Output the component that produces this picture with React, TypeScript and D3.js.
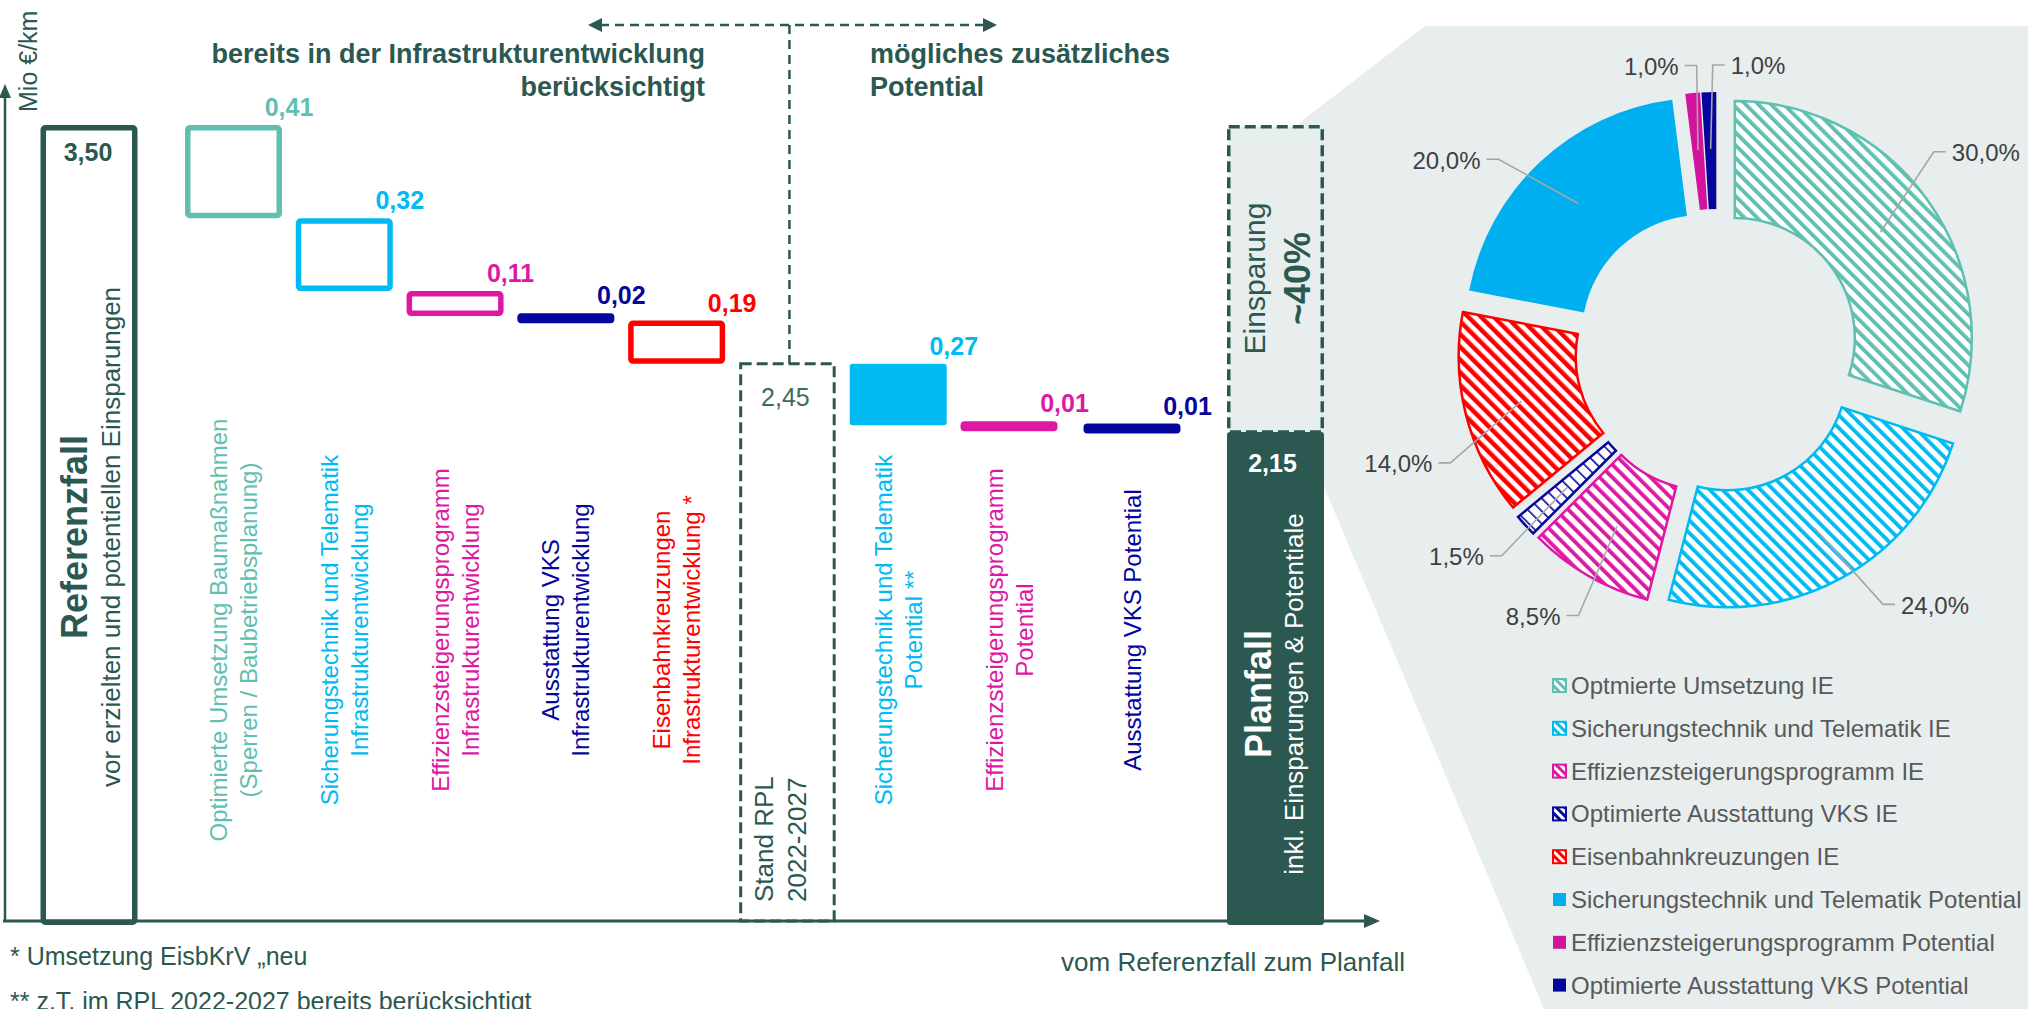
import React from "react";
import * as d3 from "d3";

// ---------------- Data ----------------
const stepNames = [
  "Referenzfall",
  "Optimierte Umsetzung Baumaßnahmen",
  "Sicherungstechnik und Telematik IE",
  "Effizienzsteigerungsprogramm IE",
  "Ausstattung VKS IE",
  "Eisenbahnkreuzungen IE",
  "Stand RPL 2022-2027",
  "Sicherungstechnik und Telematik Potential",
  "Effizienzsteigerungsprogramm Potential",
  "Ausstattung VKS Potential",
  "Planfall",
];
const stepKinds = ["total", "delta", "delta", "delta", "delta", "delta", "subtotal", "delta", "delta", "delta", "total"];
const stepValues = [3.5, 0.41, 0.32, 0.11, 0.02, 0.19, 2.45, 0.27, 0.01, 0.01, 2.15];
const stepValueLabels = ["3,50", "0,41", "0,32", "0,11", "0,02", "0,19", "2,45", "0,27", "0,01", "0,01", "2,15"];
const stepLabelLines = [
  ["Referenzfall", "vor erzielten und potentiellen Einsparungen"],
  ["Optimierte Umsetzung Baumaßnahmen", "(Sperren / Baubetriebsplanung)"],
  ["Sicherungstechnik und Telematik", "Infrastrukturentwicklung"],
  ["Effizienzsteigerungsprogramm", "Infrastrukturentwicklung"],
  ["Ausstattung VKS", "Infrastrukturentwicklung"],
  ["Eisenbahnkreuzungen", "Infrastrukturentwicklung *"],
  ["Stand RPL", "2022-2027"],
  ["Sicherungstechnik und Telematik", "Potential **"],
  ["Effizienzsteigerungsprogramm", "Potential"],
  ["Ausstattung VKS Potential"],
  ["Planfall", "inkl. Einsparungen & Potentiale"],
];
const savingsLines = ["Einsparung", "~40%"];
const headlineLeft = ["bereits in der Infrastrukturentwicklung", "berücksichtigt"];
const headlineRight = ["mögliches zusätzliches", "Potential"];
const footnotes = ["* Umsetzung EisbKrV „neu", "** z.T. im RPL 2022-2027 bereits berücksichtigt"];
const yAxisTitle = "Mio €/km";
const xAxisTitle = "vom Referenzfall zum Planfall";

const pieNames = [
  "Optmierte Umsetzung IE",
  "Sicherungstechnik und Telematik IE",
  "Effizienzsteigerungsprogramm IE",
  "Optimierte Ausstattung VKS IE",
  "Eisenbahnkreuzungen IE",
  "Sicherungstechnik und Telematik Potential",
  "Effizienzsteigerungsprogramm Potential",
  "Optimierte Ausstattung VKS Potential",
];
const pieValues = [30, 24, 8.5, 1.5, 14, 20, 1, 1];
const pieValueLabels = ["30,0%", "24,0%", "8,5%", "1,5%", "14,0%", "20,0%", "1,0%", "1,0%"];

// ---------------- Styles / layout ----------------
const DG = "#2B5850";
const TEAL = "#5FBFB0";
const LBLUE = "#00BAF2";
const MAG = "#DE18A3";
const NAVY = "#06069C";
const RED = "#FF0000";
const PIE_LB = "#00AFEF";
const PIE_MAG = "#D2149C";
const PANEL = "#E8EEEE";
const FONT = "'Liberation Sans', Arial, Helvetica, sans-serif";

const stepColors = [DG, TEAL, LBLUE, MAG, NAVY, RED, DG, LBLUE, MAG, NAVY, DG];
const stepStyles = ["outline", "outline", "outline", "outline", "solid", "outline", "dashed", "solid", "solid", "solid", "solid"];
const pieColors = [TEAL, LBLUE, MAG, NAVY, RED, PIE_LB, PIE_MAG, NAVY];
const pieHatched = [true, true, true, true, true, false, false, false];
const pieStripe = [3.8, 3.8, 3.8, 1.6, 4.5, 0, 0, 0];
const pieLabelAngleDeg = [53.6, 139.4, 214.7, 231.7, 250.5, 305.2, 347, 8.2];
const pieLabelRadius = [334, 335, 323, 332, 338, 331, 292, 288];

const W = 2028;
const H = 1009;

function estWidth(s: string, size: number) {
  let w = 0;
  for (const ch of s) {
    if (ch === "," || ch === ".") w += 0.278;
    else if (ch === "%") w += 0.889;
    else w += 0.556;
  }
  return w * size;
}

export default function App() {
  const y = d3.scaleLinear().domain([0, 3.5]).range([921, 125]);
  const xc = d3.scaleLinear().domain([0, 1, 8, 9, 10]).range([89, 233.5, 1009, 1132, 1275.5]);
  const bw = 97;
  const y0 = y(0);

  // waterfall geometry
  let running = 0;
  const steps = stepValues.map((v, i) => {
    let top: number, bottom: number;
    if (stepKinds[i] === "delta") {
      top = running;
      bottom = running - v;
      running = bottom;
    } else {
      top = v;
      bottom = 0;
      running = v;
    }
    return { i, v, top, bottom, cx: xc(i) };
  });
  const savingsTop = stepValues[0];
  const savingsBottom = stepValues[stepValues.length - 1];
  const planCx = xc(10);

  // pie geometry
  const C = [1717, 351];
  const rIn = 120;
  const rOut = 237;
  const explode = 22;
  const pieGen = d3.pie<number>().sort(null).value((d) => d).startAngle(0).endAngle(2 * Math.PI);
  const arcs = pieGen(pieValues);
  const arcGen = d3.arc<d3.PieArcDatum<number>>().innerRadius(rIn).outerRadius(rOut);

  const catFont = 24;
  const catLh = 30;
  const labelMidY = 630;

  const renderCatLabel = (i: number) => {
    const lines = stepLabelLines[i];
    const cx = xc(i);
    const n = lines.length;
    if (i === 0 || i === 10) return null;
    if (i === 6) {
      return lines.map((ln, j) => {
        const bx = cx + (j - (n - 1) / 2) * 33 + 2;
        return (
          <text key={j} transform={`translate(${bx},902) rotate(-90)`} fontSize={26} fill={DG} textAnchor="start">
            {ln}
          </text>
        );
      });
    }
    return lines.map((ln, j) => {
      const bx = cx + (j - (n - 1) / 2) * catLh + 8.6;
      return (
        <text key={j} transform={`translate(${bx},${labelMidY}) rotate(-90)`} fontSize={catFont} fill={stepColors[i]} textAnchor="middle">
          {ln}
        </text>
      );
    });
  };

  return (
    <svg width={W} height={H} viewBox={`0 0 ${W} ${H}`} style={{ position: "absolute", left: 0, top: 0, background: "#fff" }} fontFamily={FONT}>
      <defs>
        {pieColors.map((c, i) => (
          <pattern key={i} id={`hatch-${i}`} patternUnits="userSpaceOnUse" width={9} height={9} patternTransform="rotate(-45)">
            <rect width={9} height={9} fill="#fff" />
            <rect width={pieStripe[i]} height={9} fill={c} />
          </pattern>
        ))}
        {pieColors.map((c, i) => (
          <pattern key={"l" + i} id={`hatchL-${i}`} patternUnits="userSpaceOnUse" width={6} height={6} patternTransform="rotate(-45)">
            <rect width={6} height={6} fill="#fff" />
            <rect width={3} height={6} fill={c} />
          </pattern>
        ))}
      </defs>

      {/* grey callout panel */}
      <polygon points={`1425,26 ${W},26 ${W},${H} 1544,${H} 1301,${y(savingsBottom)} 1299,${y(savingsTop) - 2}`} fill={PANEL} />

      {/* headlines */}
      <g fill={DG} fontWeight="bold" fontSize={27}>
        {headlineLeft.map((t, j) => (
          <text key={j} x={705} y={63 + j * 33} textAnchor="end">{t}</text>
        ))}
        {headlineRight.map((t, j) => (
          <text key={j} x={870} y={63 + j * 33} textAnchor="start">{t}</text>
        ))}
      </g>

      {/* dashed double arrow + vertical divider */}
      <g stroke={DG} strokeWidth={2.5} fill="none" strokeDasharray="9 6">
        <line x1={600} y1={25} x2={984} y2={25} />
        <line x1={xc(6) + 2} y1={25} x2={xc(6) + 2} y2={y(stepValues[6])} />
      </g>
      <polygon points={`588,25 602,18 602,32`} fill={DG} />
      <polygon points={`997,25 983,18 983,32`} fill={DG} />

      {/* axes */}
      <line x1={5} y1={y0} x2={5} y2={96} stroke={DG} strokeWidth={2.5} />
      <polygon points={`5,84 -1,98 11,98`} fill={DG} />
      <line x1={3} y1={y0} x2={1366} y2={y0} stroke={DG} strokeWidth={3} />
      <polygon points={`1380,${y0} 1364,${y0 - 7} 1364,${y0 + 7}`} fill={DG} />
      <text transform={`translate(37,112) rotate(-90)`} fontSize={25} fill={DG}>{yAxisTitle}</text>
      <text x={1405} y={971} fontSize={26} fill={DG} textAnchor="end">{xAxisTitle}</text>

      {/* savings box */}
      <rect x={planCx - bw / 2 + 1.75} y={y(savingsTop) + 1.75} width={bw - 3.5} height={y(savingsBottom) - y(savingsTop) - 1.75} fill={PANEL} stroke={DG} strokeWidth={3.5} strokeDasharray="11 5" />

      {/* waterfall bars */}
      {steps.map((s) => {
        const col = stepColors[s.i];
        const st = stepStyles[s.i];
        const yt = y(s.top);
        const yb = y(s.bottom);
        const extra = s.bottom === 0 && stepKinds[s.i] === "total" ? 4 : 0;
        if (st === "outline") {
          const sw = 5.5;
          return (
            <rect key={s.i} x={s.cx - bw / 2 + sw / 2} y={yt + sw / 2} width={bw - sw} height={yb - yt - sw + extra} fill="none" stroke={col} strokeWidth={sw} rx={2} />
          );
        }
        if (st === "dashed") {
          return (
            <rect key={s.i} x={s.cx - bw / 2 + 1.75} y={yt} width={bw - 3.5} height={yb - yt} fill="none" stroke={col} strokeWidth={3} strokeDasharray="11 5" />
          );
        }
        const h = yb - yt;
        if (h < 10) {
          const mid = (yt + yb) / 2;
          return <rect key={s.i} x={s.cx - bw / 2} y={mid - 5} width={bw} height={10} rx={4} fill={col} />;
        }
        return <rect key={s.i} x={s.cx - bw / 2} y={yt} width={bw} height={h + extra} rx={3} fill={col} />;
      })}

      {/* value labels */}
      {steps.map((s) => {
        const col = stepColors[s.i];
        const lbl = stepValueLabels[s.i];
        if (stepKinds[s.i] === "delta") {
          const h = y(s.bottom) - y(s.top);
          const outerTop = h < 10 ? (y(s.top) + y(s.bottom)) / 2 - 5 : y(s.top);
          return (
            <text key={s.i} x={s.cx + bw / 2 + 7} y={outerTop - 9} fontSize={25} fontWeight="bold" fill={col} textAnchor="middle">{lbl}</text>
          );
        }
        if (s.i === 0) {
          return <text key={s.i} x={s.cx - 1} y={y(s.top) + 36} fontSize={25} fontWeight="bold" fill={DG} textAnchor="middle">{lbl}</text>;
        }
        if (s.i === 6) {
          return <text key={s.i} x={s.cx - 2} y={y(s.top) + 42} fontSize={25} fill="#3A6A62" textAnchor="middle">{lbl}</text>;
        }
        return <text key={s.i} x={s.cx - 3} y={y(s.top) + 40} fontSize={25} fontWeight="bold" fill="#fff" textAnchor="middle">{lbl}</text>;
      })}

      {/* category labels */}
      {steps.map((s) => (
        <g key={s.i}>{renderCatLabel(s.i)}</g>
      ))}

      {/* Referenzfall labels */}
      <text transform={`translate(${xc(0) - 2},537) rotate(-90)`} fontSize={36} fontWeight="bold" fill={DG} textAnchor="middle">{stepLabelLines[0][0]}</text>
      <text transform={`translate(${xc(0) + 31},537) rotate(-90)`} fontSize={26} fill={DG} textAnchor="middle">{stepLabelLines[0][1]}</text>
      {/* Planfall labels */}
      <text transform={`translate(${planCx - 4.5},694) rotate(-90)`} fontSize={36} fontWeight="bold" fill="#fff" textAnchor="middle">{stepLabelLines[10][0]}</text>
      <text transform={`translate(${planCx + 27.5},694) rotate(-90)`} fontSize={26} fill="#fff" textAnchor="middle">{stepLabelLines[10][1]}</text>
      {/* Einsparung labels */}
      <text transform={`translate(${planCx - 10.5},${(y(savingsTop) + y(savingsBottom)) / 2}) rotate(-90)`} fontSize={30} fill={DG} textAnchor="middle">{savingsLines[0]}</text>
      <text transform={`translate(${planCx + 34.5},${(y(savingsTop) + y(savingsBottom)) / 2}) rotate(-90)`} fontSize={36} fontWeight="bold" fill={DG} textAnchor="middle">{savingsLines[1]}</text>

      {/* footnotes */}
      {footnotes.map((f, j) => (
        <text key={j} x={10} y={965 + j * 45} fontSize={25} fill={DG}>{f}</text>
      ))}

      {/* donut */}
      {arcs.map((a, i) => {
        const mid = (a.startAngle + a.endAngle) / 2;
        const ox = C[0] + Math.sin(mid) * explode;
        const oy = C[1] - Math.cos(mid) * explode;
        return (
          <path
            key={i}
            d={arcGen(a) || ""}
            transform={`translate(${ox},${oy})`}
            fill={pieHatched[i] ? `url(#hatch-${i})` : pieColors[i]}
            stroke={pieHatched[i] ? pieColors[i] : "none"}
            strokeWidth={2.5}
          />
        );
      })}

      {/* donut labels + leaders */}
      {arcs.map((a, i) => {
        const mid = (a.startAngle + a.endAngle) / 2;
        const ox = C[0] + Math.sin(mid) * explode;
        const oy = C[1] - Math.cos(mid) * explode;
        const rc = (rIn + rOut) / 2 + 1.5;
        const px = ox + Math.sin(mid) * rc;
        const py = oy - Math.cos(mid) * rc;
        const la = (pieLabelAngleDeg[i] * Math.PI) / 180;
        const lx = C[0] + Math.sin(la) * pieLabelRadius[i];
        const ly = C[1] - Math.cos(la) * pieLabelRadius[i];
        const w = estWidth(pieValueLabels[i], 24);
        const right = lx > px;
        const sx = right ? lx - w / 2 - 6 : lx + w / 2 + 6;
        const ex = right ? sx - 12 : sx + 12;
        return (
          <g key={i}>
            <polyline points={`${sx},${ly - 1} ${ex},${ly - 1} ${px},${py}`} fill="none" stroke="#A6A6A6" strokeWidth={1.6} />
            <text x={lx} y={ly + 8.5} fontSize={24} fill="#404040" textAnchor="middle">{pieValueLabels[i]}</text>
          </g>
        );
      })}

      {/* legend */}
      {pieNames.map((n, i) => {
        const by = 694 + i * 42.8;
        return (
          <g key={i}>
            <rect x={1553} y={by - 15} width={13} height={13} fill={pieHatched[i] ? `url(#hatchL-${i})` : pieColors[i]} stroke={pieColors[i]} strokeWidth={pieHatched[i] ? 2 : 0} />
            <text x={1571} y={by} fontSize={24} fill="#595959">{n}</text>
          </g>
        );
      })}
    </svg>
  );
}
